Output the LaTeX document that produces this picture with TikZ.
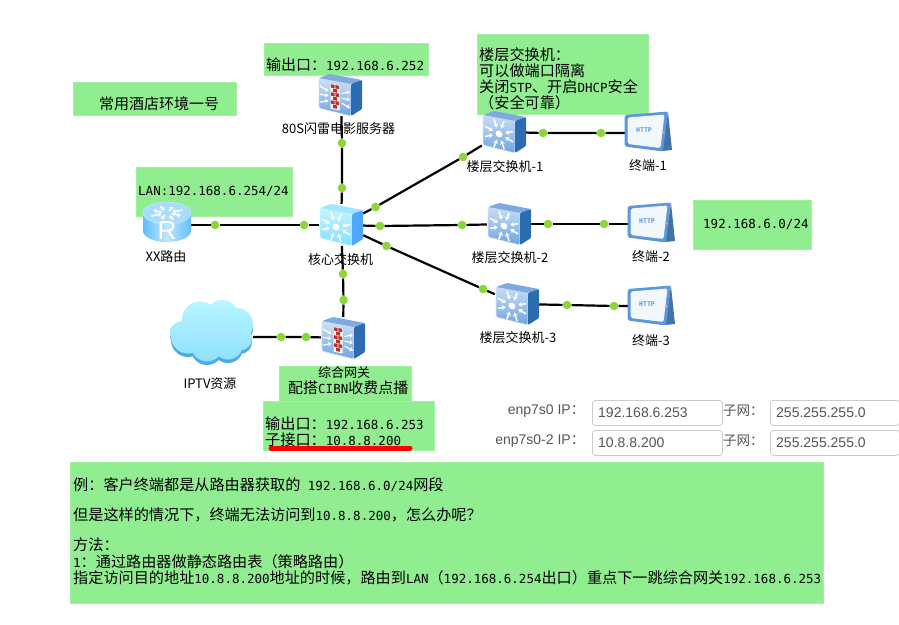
\documentclass[tikz,border=0pt]{standalone}
\usepackage{fontspec}
\setmainfont{Noto Sans CJK SC}
\newfontfamily\monofam{DejaVu Sans Mono}
\newfontfamily\formfam{Liberation Sans}
\usetikzlibrary{arrows.meta,backgrounds}
\newcommand{\mn}[1]{{\monofam\fontsize{12.5}{16}\selectfont #1}}
\definecolor{gbox}{HTML}{90EE90}
\definecolor{gdot}{HTML}{8CD63C}
\definecolor{formtext}{HTML}{555555}
\definecolor{formline}{HTML}{CCCCCC}
\definecolor{fwfronta}{HTML}{CFE0F6}
\definecolor{fwfrontb}{HTML}{6FA4E0}
\definecolor{fwtop}{HTML}{7FAADF}
\definecolor{fwside}{HTML}{2C6CB0}
\definecolor{brick}{HTML}{B83030}
\definecolor{corefronta}{HTML}{C4F4FF}
\definecolor{corefrontb}{HTML}{86DEFF}
\definecolor{coretop}{HTML}{A0E6FF}
\definecolor{coreside}{HTML}{4FA8FF}
\definecolor{swfronta}{HTML}{C8DDF6}
\definecolor{swfrontb}{HTML}{6FA4E0}
\definecolor{swtop}{HTML}{7FAADF}
\definecolor{swside}{HTML}{2C6CB0}
\definecolor{rtblue}{HTML}{62BFFA}
\definecolor{tmblue}{HTML}{5C96DC}
\definecolor{cloudshadow}{HTML}{4DA8EE}
\definecolor{cloudtop}{HTML}{B8F6FF}
\definecolor{cloudbot}{HTML}{8FE0FF}
\tikzset{
  greenbox/.style={fill=gbox,draw=gbox!85!white,line width=.5pt},
  dotnode/.style={circle,fill=gdot,draw=none,minimum size=8.6pt,inner sep=0pt},
  linkline/.style={draw=black,line width=2.2pt},
  anchorbox/.style={rectangle,draw=none,inner sep=0pt,minimum width=#1},
  anchorbox/.default=44pt,
  boxtext/.style={anchor=north west,align=left,inner sep=0pt,font=\fontsize{15.15}{16}\selectfont},
  midtext/.style={anchor=west,inner sep=0pt,font=\fontsize{15}{16}\selectfont},
  devlabel/.style={inner sep=0pt,font=\fontsize{13}{15}\selectfont},
  formlabel/.style={inner sep=0pt,text=formtext,font=\formfam\fontsize{14}{16}\selectfont},
  formcjk/.style={inner sep=0pt,text=formtext,font=\fontsize{13.5}{16}\selectfont},
  forminput/.style={draw=formline,line width=.8pt,rounded corners=3pt,fill=white},
  wharrow/.style={white,line width=1.5pt,-{Stealth[length=4pt,width=5pt]}},
  pics/switchicon/.style n args={4}{code={
    \path[top color=#1,bottom color=#2,draw=#1!70!white,line width=.6pt,rounded corners=1.5pt]
      (-21,-17)--(11,-11)--(11,21)--(-21,13)--cycle;
    \path[fill=#3,rounded corners=1pt] (-21,-17)--(-10,-21)--(22,-15)--(11,-11)--cycle;
    \path[fill=#4,rounded corners=1pt] (11,-11)--(22,-15)--(22,14)--(11,21)--cycle;
    \begin{scope}[cm={1,-0.19,0,1,(-5,2)}]
      \foreach \ang in {20,70,110,160,200,250,290,340}
        \draw[wharrow] (\ang:15) -- (\ang:6.5);
      \fill[white] (0,0) circle (3.4);
    \end{scope}
  }},
  pics/firewallicon/.style={code={
    \path[top color=fwfronta,bottom color=fwfrontb,draw=fwfronta,line width=.6pt,rounded corners=1.5pt]
      (-21,-17)--(11,-11)--(11,21)--(-21,13)--cycle;
    \path[fill=fwtop,rounded corners=1pt] (-21,-17)--(-10,-21)--(22,-15)--(11,-11)--cycle;
    \path[fill=fwside,rounded corners=1pt] (11,-11)--(22,-15)--(22,14)--(11,21)--cycle;
    \begin{scope}[cm={1,-0.19,0,1,(-5,2)}]
      \fill[white] (-4.5,-12.5) rectangle (4.5,12.5);
      \foreach \yy in {-12,-4,4} {
        \fill[brick] (-4,\yy) rectangle (-.4,\yy+3.4);
        \fill[brick] (.4,\yy) rectangle (4,\yy+3.4);
        \fill[brick] (-2,\yy+4) rectangle (2,\yy+7.4);
      }
      \foreach \yy in {-8,0,8} {
        \draw[white,line width=1.2pt,-{Stealth[length=3.5pt,width=4.5pt]}] (-15,\yy) -- (-6.5,\yy*.6);
        \draw[white,line width=1.2pt,-{Stealth[length=3.5pt,width=4.5pt]}] (6.5,\yy*.6) -- (15,\yy);
      }
    \end{scope}
  }},
  pics/routericon/.style={code={
    \path[left color=#1,right color=#1,middle color=#1!40!white] (-24,-8) -- (-24,10) arc[start angle=180,end angle=0,x radius=24,y radius=11] -- (24,-8) -- cycle;
    \fill[#1!55!white,draw=#1!35!white,line width=.5pt] (0,-8) ellipse[x radius=24,y radius=11];
    \begin{scope}[shift={(0,-8)},yscale=.45]
      \foreach \ang in {45,135,225,315} {
        \draw[white,line width=1.6pt,-{Stealth[length=3.5pt,width=5pt]}] (\ang-22:5) -- (\ang-22:15);
        \draw[white,line width=1.6pt,-{Stealth[length=3.5pt,width=5pt]}] (\ang+22:17) -- (\ang+22:6);
      }
    \end{scope}
    \node[text=white,inner sep=0pt,font=\formfam\fontsize{26}{26}\selectfont] (-letter) at (0,10) {R};
  }},
  pics/termicon/.style={code={
    \path[fill=#1!75!black] (20,-20)--(24,18)--(14,19)--cycle;
    \path[fill=#1,rounded corners=2pt] (-23.5,-17)--(20,-20.5)--(15,19.5)--(-23.5,14.5)--cycle;
    \path[fill=white!92!#1,rounded corners=2pt] (-20.5,-14.5)--(16.5,-17.5)--(12.5,16)--(-20.5,12)--cycle;
    \node[text=#1,inner sep=0pt,font=\monofam\bfseries\fontsize{6.5}{7}\selectfont] (-http) at (-4,-2) {HTTP};
    \fill[gray!50] (15.5,.5) circle (1);
  }},
}
\newcommand{\cloudblobs}{(188,340) circle (17) (200,323) circle (18) (222,320) circle (16.5)
  (236,328) circle (17) (240,342) circle (12) (228,348) circle (15) (207,349) circle (16)
  (181,336) circle (11) (214,332) circle (24)}
\begin{document}
\begin{tikzpicture}[x=1pt,y=-1pt]
\useasboundingbox (0,0) rectangle (899,624);

% connection anchors for every device
\node[anchorbox,minimum height=42pt] (fwtop) at (341,95) {};
\node[anchorbox,minimum height=42pt] (core) at (341,225) {};
\node[anchorbox=48pt,minimum height=42pt] (router) at (167,225) {};
\node[anchorbox,minimum height=42pt] (sw1) at (504,132) {};
\node[anchorbox,minimum height=42pt] (sw2) at (509,224) {};
\node[anchorbox,minimum height=42pt] (sw3) at (517,304) {};
\node[anchorbox,minimum height=40pt] (tm1) at (647,133) {};
\node[anchorbox,minimum height=40pt] (tm2) at (651,224) {};
\node[anchorbox,minimum height=40pt] (tm3) at (651,306) {};
\node[anchorbox,minimum height=42pt] (gw) at (343,338) {};
\node[anchorbox=84pt,minimum height=66pt] (cloudres) at (211,337) {};

% connector dots
\node[dotnode] (d1) at (342,143) {};
\node[dotnode] (d2) at (342,188) {};
\node[dotnode] (d3) at (215,225) {};
\node[dotnode] (d4) at (304,225) {};
\node[dotnode] (d5) at (375.5,207) {};
\node[dotnode] (d6) at (463,157) {};
\node[dotnode] (d7) at (380,226) {};
\node[dotnode] (d8) at (462,225) {};
\node[dotnode] (d9) at (386.5,246) {};
\node[dotnode] (d10) at (483,289) {};
\node[dotnode] (d11) at (543,133) {};
\node[dotnode] (d12) at (601,133) {};
\node[dotnode] (d13) at (548,224) {};
\node[dotnode] (d14) at (604,224) {};
\node[dotnode] (d15) at (567,305) {};
\node[dotnode] (d16) at (614,306) {};
\node[dotnode] (d17) at (343,274) {};
\node[dotnode] (d18) at (343.5,300) {};
\node[dotnode] (d19) at (281,337) {};
\node[dotnode] (d20) at (306,337) {};

\begin{scope}[on background layer]
  % green note boxes
  \path[greenbox] (73,82) rectangle (236.5,115.5);
  \path[greenbox] (264,43) rectangle (428,75);
  \path[greenbox] (136,167) rectangle (292,216);
  \path[greenbox] (477,34) rectangle (648,114);
  \path[greenbox] (693,200) rectangle (811,249);
  \path[greenbox] (279,366) rectangle (411,401);
  \path[greenbox] (263,401) rectangle (434,450);
  \path[greenbox] (70,462) rectangle (823,603);
  % connectors
  \draw[linkline] (fwtop) -- (d1) -- (d2) -- (core);
  \draw[linkline] (router) -- (d3) -- (d4) -- (core);
  \draw[linkline] (core) -- (d5) -- (d6) -- (sw1);
  \draw[linkline] (core) -- (d7) -- (d8) -- (sw2);
  \draw[linkline] (core) -- (d9) -- (d10) -- (sw3);
  \draw[linkline] (sw1) -- (d11) -- (d12) -- (tm1);
  \draw[linkline] (sw2) -- (d13) -- (d14) -- (tm2);
  \draw[linkline] (sw3) -- (d15) -- (d16) -- (tm3);
  \draw[linkline] (core) -- (d17) -- (d18) -- (gw);
  \draw[linkline] (cloudres) -- (d19) -- (d20) -- (gw);
\end{scope}

% device icons
\pic (icofw1) at (340,95) {firewallicon};
\pic (icogw) at (343,338) {firewallicon};
\pic (icocore) at (341,225) {switchicon={corefronta}{corefrontb}{coretop}{coreside}};
\pic (icosw1) at (504,132) {switchicon={swfronta}{swfrontb}{swtop}{swside}};
\pic (icosw2) at (509,224) {switchicon={swfronta}{swfrontb}{swtop}{swside}};
\pic (icosw3) at (517,304) {switchicon={swfronta}{swfrontb}{swtop}{swside}};
\pic (icort) at (167,221) {routericon=rtblue};
\pic (icotm1) at (648,132) {termicon=tmblue};
\pic (icotm2) at (651,223) {termicon=tmblue};
\pic (icotm3) at (651,306) {termicon=tmblue};

% cloud
\fill[cloudshadow] \cloudblobs;
\begin{scope}[yshift=3.5pt]
  \path[top color=cloudtop,bottom color=cloudbot] \cloudblobs;
\end{scope}

% device labels
\node[devlabel] (lbfw) at (338.5,129) {80S闪雷电影服务器};
\node[devlabel] (lbcore) at (340.5,260) {核心交换机};
\node[devlabel] (lbrt) at (166,257) {XX路由};
\node[devlabel] (lbsw1) at (505,167) {楼层交换机-1};
\node[devlabel] (lbtm1) at (648,166) {终端-1};
\node[devlabel] (lbsw2) at (510,258) {楼层交换机-2};
\node[devlabel] (lbtm2) at (651,257) {终端-2};
\node[devlabel] (lbsw3) at (518,338) {楼层交换机-3};
\node[devlabel] (lbtm3) at (651,341) {终端-3};
\node[devlabel] (lbiptv) at (210,384) {IPTV资源};
\node[devlabel] (lbgw) at (344,373) {综合网关};

% note texts
\node[midtext] (ntitle) at (99,104) {常用酒店环境一号};
\node[midtext] (nfw) at (266,65) {输出口：\mn{192.168.6.252}};
\node[midtext] (nlan) at (138,191) {\mn{LAN:192.168.6.254/24}};
\node[boxtext] (nfloor) at (479,47) {楼层交换机：\\可以做端口隔离\\关闭\mn{STP}、开启\mn{DHCP}安全\\（安全可靠）};
\node[midtext] (nnet) at (703,224) {\mn{192.168.6.0/24}};
\node[midtext] (ncibn) at (288,388) {配搭\mn{CIBN}收费点播};
\node[boxtext] (ngw) at (265,417) {输出口：\mn{192.168.6.253}\\子接口：\mn{10.8.8.200}};
\node[boxtext] (nmain) at (73,477) {例：客户终端都是从路由器获取的\hspace{7.5pt}\mn{192.168.6.0/24}网段\\[14pt]
但是这样的情况下，终端无法访问到\mn{10.8.8.200}，怎么办呢？\\[14pt]
方法：\\[1pt]
\mn{1}：通过路由器做静态路由表（策略路由）\\
指定访问目的地址\mn{10.8.8.200}地址的时候，路由到\mn{LAN}（\mn{192.168.6.254}出口）重点下一跳综合网关\mn{192.168.6.253}};

% red underline
\draw[red,line width=5pt,line cap=round] (271,448) -- (410,448);

% form
\node[formlabel,anchor=east] (flab1) at (585,411) {enp7s0 IP{\rmfamily：}};
\node[formlabel,anchor=east] (flab2) at (585,441) {enp7s0-2 IP{\rmfamily：}};
\node[forminput,minimum width=130pt,minimum height=25pt,anchor=north west,inner sep=0pt] (fin1) at (592,400) {};
\node[forminput,minimum width=130pt,minimum height=25pt,anchor=north west,inner sep=0pt] (fin2) at (592,430) {};
\node[forminput,minimum width=129pt,minimum height=25pt,anchor=north west,inner sep=0pt] (fin3) at (770,400) {};
\node[forminput,minimum width=129pt,minimum height=25pt,anchor=north west,inner sep=0pt] (fin4) at (770,430) {};
\node[formlabel,anchor=west] (fv1) at (598,412.5) {192.168.6.253};
\node[formlabel,anchor=west] (fv2) at (598,442.5) {10.8.8.200};
\node[formlabel,anchor=west] (fv3) at (776,412.5) {255.255.255.0};
\node[formlabel,anchor=west] (fv4) at (776,442.5) {255.255.255.0};
\node[formcjk,anchor=west] (fs1) at (723,411) {子网：};
\node[formcjk,anchor=west] (fs2) at (723,441) {子网：};
\end{tikzpicture}
\end{document}
